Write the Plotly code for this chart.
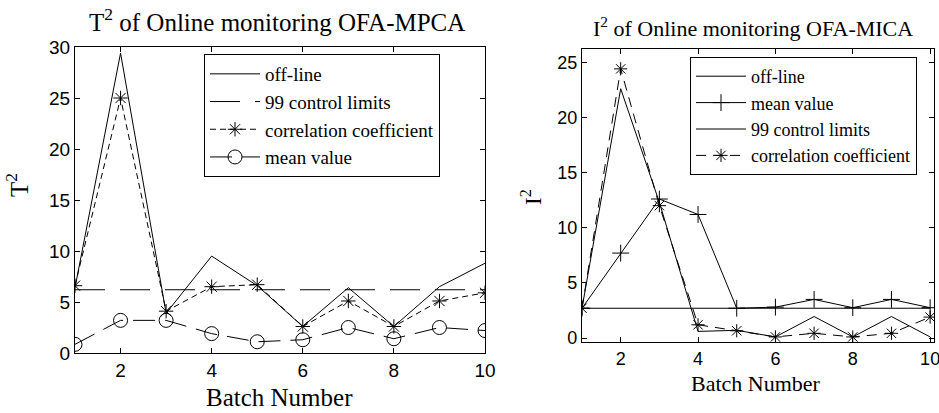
import plotly.graph_objects as go

# ── Data ──────────────────────────────────────────────────────────────────────
BATCH = [1, 2, 3, 4, 5, 6, 7, 8, 9, 10]

# left panel: T^2 OFA-MPCA
T2_OFFLINE = [6.4, 29.4, 3.9, 9.5, 6.6, 2.6, 6.4, 2.6, 6.5, 8.8]
T2_LIMIT = [6.2] * 10
T2_CORR = [6.6, 25.0, 4.1, 6.5, 6.7, 2.6, 5.1, 2.6, 5.1, 5.9]
T2_MEAN = [0.85, 3.2, 3.2, 1.9, 1.1, 1.3, 2.5, 1.4, 2.5, 2.2]

# right panel: I^2 OFA-MICA
I2_OFFLINE = [2.7, 22.6, 12.3, 0.6, 0.7, 0.1, 1.95, 0.1, 1.95, 0.1]
I2_MEAN = [2.7, 7.7, 12.6, 11.2, 2.7, 2.8, 3.5, 2.75, 3.5, 2.75]
I2_LIMIT = [2.7] * 10
I2_CORR = [2.7, 24.4, 12.0, 1.2, 0.66, 0.1, 0.43, 0.1, 0.43, 1.9]

X_TICKS = [2, 4, 6, 8, 10]
T2_Y_TICKS = [0, 5, 10, 15, 20, 25, 30]
I2_Y_TICKS = [0, 5, 10, 15, 20, 25]

# ── Style ─────────────────────────────────────────────────────────────────────
SERIF = "Liberation Serif, Times New Roman, serif"
SANS = "Liberation Sans, Arial, sans-serif"
INK = "black"
W, H = 939, 413

fig = go.Figure()


def line(x, y, name, dash="solid", symbol=None, size=10, xa="x", ya="y", legend="legend"):
    fig.add_trace(
        go.Scatter(
            x=x,
            y=y,
            name=name,
            mode="lines+markers" if symbol else "lines",
            line=dict(color=INK, width=1, dash=dash),
            marker=dict(symbol=symbol, size=size, color=INK,
                        line=dict(color=INK, width=1)) if symbol else None,
            xaxis=xa,
            yaxis=ya,
            legend=legend,
        )
    )


# left
line(BATCH, T2_OFFLINE, "off-line")
line(BATCH, T2_LIMIT, "99 control limits", dash="30px,15px")
line(BATCH, T2_CORR, "correlation coefficient", dash="6px,4px", symbol="asterisk-open", size=12)
line(BATCH, T2_MEAN, "mean value", dash="22px,10px", symbol="circle-open", size=14)

# right
line(BATCH, I2_OFFLINE, "off-line", xa="x2", ya="y2", legend="legend2")
line(BATCH, I2_MEAN, "mean value", symbol="cross-thin-open", size=12, xa="x2", ya="y2", legend="legend2")
line(BATCH, I2_LIMIT, "99 control limits", xa="x2", ya="y2", legend="legend2")
line(BATCH, I2_CORR, "correlation coefficient", dash="10px,7px", symbol="asterisk-open", size=11,
     xa="x2", ya="y2", legend="legend2")

axis_common = dict(
    showgrid=False,
    zeroline=False,
    showline=True,
    linecolor=INK,
    linewidth=1.2,
    mirror="ticks",
    ticks="inside",
    ticklen=5,
    tickcolor=INK,
    automargin=False,
    ticklabeloverflow="allow",
    tickfont=dict(family=SANS, size=19, color=INK),
)
font_small = dict(family=SANS, size=18, color=INK)

fig.update_layout(
    width=W,
    height=H,
    paper_bgcolor="white",
    plot_bgcolor="white",
    margin=dict(l=0, r=0, t=0, b=0, autoexpand=False),
    xaxis=dict(axis_common, domain=[75 / W, 485 / W], range=[1, 10], tickvals=X_TICKS, anchor="y"),
    yaxis=dict(axis_common, domain=[(H - 353) / H, (H - 47) / H], range=[0, 30],
               tickvals=T2_Y_TICKS, anchor="x"),
    xaxis2=dict(axis_common, domain=[582 / W, 934 / W], range=[1, 10.1], tickvals=X_TICKS,
                anchor="y2", tickfont=font_small),
    yaxis2=dict(axis_common, domain=[(H - 342) / H, (H - 49) / H], range=[-0.36, 26.2],
                tickvals=I2_Y_TICKS, anchor="x2", tickfont=font_small),
    legend=dict(
        x=204 / W, y=(H - 54) / H, xanchor="left", yanchor="top",
        bgcolor="white", bordercolor=INK, borderwidth=1,
        font=dict(family=SERIF, size=19, color=INK),
        itemwidth=50, tracegroupgap=0,
    ),
    legend2=dict(
        x=690 / W, y=(H - 57) / H, xanchor="left", yanchor="top",
        bgcolor="white", bordercolor=INK, borderwidth=1,
        font=dict(family=SERIF, size=18, color=INK),
        itemwidth=50, tracegroupgap=0,
    ),
)

# titles and axis labels as annotations
notes = [
    (277, 20, "T<sup>2</sup> of Online monitoring OFA-MPCA", 25, 0),
    (753, 27, "I<sup>2</sup> of Online monitoring OFA-MICA", 22, 0),
    (279, 397, "Batch Number", 25, 0),
    (756, 383, "Batch Number", 22, 0),
    (17, 185, "T<sup>2</sup>", 25, -90),
    (531, 197, "I<sup>2</sup>", 23, -90),
]
for x, y, text, size, angle in notes:
    fig.add_annotation(
        x=x / W, y=(H - y) / H, xref="paper", yref="paper",
        text=text, showarrow=False, textangle=angle,
        xanchor="center", yanchor="middle",
        font=dict(family=SERIF, size=size, color=INK),
    )

# page body has a default margin; drop it so the figure sits at the window corner
fig.write_html(
    "out.html",
    config={"displayModeBar": False},
    post_script="document.body.style.margin='0';",
)
